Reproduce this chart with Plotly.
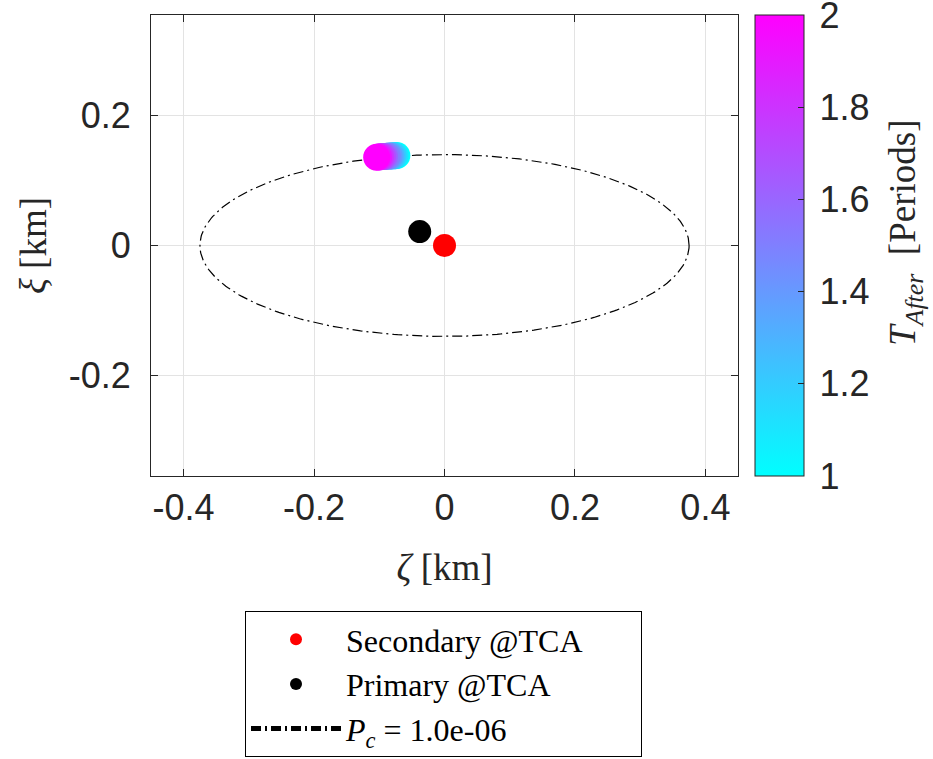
import numpy as np
import plotly.graph_objects as go

# ---- data ----
t_after = [1.0, 1.1, 1.2, 1.3, 1.4, 1.5, 1.6, 1.7, 1.8, 1.9, 2.0]
zeta_after = [-0.073, -0.076, -0.079, -0.082, -0.085, -0.088, -0.092, -0.095, -0.098, -0.101, -0.104]
xi_after = [0.1385, 0.1383, 0.1381, 0.1379, 0.1377, 0.1375, 0.1372, 0.1369, 0.1366, 0.1363, 0.1360]

secondary_zeta = [0.0]
secondary_xi = [0.0]
primary_zeta = [-0.038]
primary_xi = [0.0215]

ellipse_a = 0.375
ellipse_b = 0.140
pc_label = "1.0e-06"

x_ticks = [-0.4, -0.2, 0, 0.2, 0.4]
x_ticklabels = ["-0.4", "-0.2", "0", "0.2", "0.4"]
y_ticks = [-0.2, 0, 0.2]
y_ticklabels = ["-0.2", "0", "0.2"]
cb_ticks = [1, 1.2, 1.4, 1.6, 1.8, 2]
cb_ticklabels = ["1", "1.2", "1.4", "1.6", "1.8", "2"]

theta = np.linspace(0, 2 * np.pi, 400)
ell_x = ellipse_a * np.cos(theta)
ell_y = ellipse_b * np.sin(theta)

AX = "#262626"
SERIF = "Liberation Serif"
SANS = "Liberation Sans"

W, H = 933, 759
PL, PR, PT, PB = 151, 738, 15, 476  # plot area in pixels

fig = go.Figure()

fig.add_trace(go.Scatter(
    x=ell_x, y=ell_y, mode="lines", name="<i>P</i><sub><i>c</i></sub> = " + pc_label,
    legendrank=3,
    line=dict(color="black", width=1.2, dash="10px,4px,2px,4px")))

fig.add_trace(go.Scatter(
    x=zeta_after, y=xi_after, mode="markers", showlegend=False,
    marker=dict(size=27, color=t_after, cmin=0.99999, cmax=2.00001,
                colorscale=[[0, "rgb(0,255,255)"], [1, "rgb(255,0,255)"]],
                line=dict(width=0),
                colorbar=dict(
                    x=(755 - PL) / (PR - PL), xanchor="left", xref="paper",
                    y=0, yanchor="bottom", len=1, lenmode="fraction",
                    thickness=49, thicknessmode="pixels",
                    outlinewidth=1, outlinecolor=AX,
                    ticks="inside", ticklen=6, tickcolor=AX,
                    tickvals=cb_ticks,
                    ticktext=["\u2009" + t for t in cb_ticklabels],
                    tickfont=dict(family=SANS, size=36, color=AX),
                    ticklabeloverflow="allow",
                    xpad=0, ypad=0,
                ))))

fig.add_trace(go.Scatter(
    x=secondary_zeta, y=secondary_xi, mode="markers", name="Secondary @TCA",
    legendrank=1,
    marker=dict(size=23, color="rgb(255,0,0)", line=dict(width=0))))

fig.add_trace(go.Scatter(
    x=primary_zeta, y=primary_xi, mode="markers", name="Primary @TCA",
    legendrank=2,
    marker=dict(size=23, color="black", line=dict(width=0))))

axis_common = dict(
    showgrid=True, gridcolor="#e3e3e3", gridwidth=1, automargin=False,
    zeroline=False, showline=True, linecolor=AX, linewidth=1, mirror="ticks",
    ticks="inside", ticklen=7, tickcolor=AX,
    tickfont=dict(family=SANS, size=36, color=AX),
)

fig.update_layout(
    width=W, height=H,
    margin=dict(l=PL, r=W - PR, t=PT, b=H - PB, autoexpand=False),
    plot_bgcolor="white", paper_bgcolor="white",
    xaxis=dict(range=[-0.45, 0.45], tickvals=x_ticks, ticktext=x_ticklabels,
               title=dict(text="<i>ζ</i> [km]", font=dict(family=SERIF, size=37, color=AX), standoff=26),
               **axis_common),
    yaxis=dict(range=[-0.355, 0.355], tickvals=y_ticks, ticktext=y_ticklabels,
               ticklabelstandoff=12,
               title=dict(text="<i>ξ</i> [km]", font=dict(family=SERIF, size=37, color=AX), standoff=10),
               **axis_common),
    legend=dict(
        orientation="h",
        x=(443.5 - PL) / (PR - PL), xanchor="center", y=(PB - 611) / (PB - PT), yanchor="top",
        bgcolor="white", bordercolor="black", borderwidth=1,
        font=dict(family=SERIF, size=32, color="black"),
        traceorder="normal", itemsizing="constant", tracegroupgap=0,
        itemwidth=90, entrywidth=290, entrywidthmode="pixels",
    ),
    annotations=[dict(
        text="<i>T</i><sub><i>After</i></sub>  [Periods]",
        textangle=-90, xref="paper", yref="paper",
        x=(905 - PL) / (PR - PL), y=(PB - 233) / (PB - PT),
        xanchor="center", yanchor="middle", showarrow=False,
        font=dict(family=SERIF, size=37, color=AX),
    )],
)

fig.write_html("out.html", config={"displayModeBar": False},
               post_script="document.body.style.margin='0';")
